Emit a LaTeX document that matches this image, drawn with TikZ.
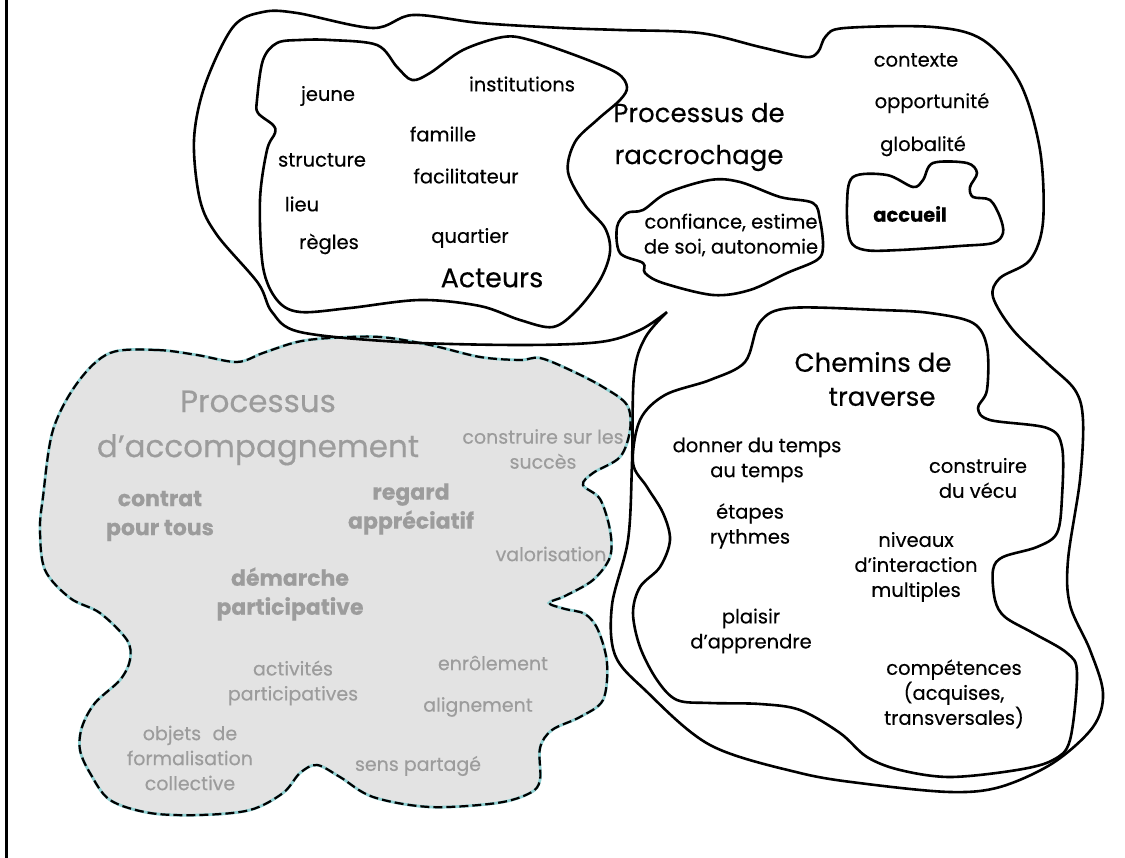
\documentclass[tikz,border=0pt]{standalone}
\usepackage{fontspec}
\setmainfont{Poppins}[FakeBold=0.3]
\begin{document}
\begin{tikzpicture}[x=1pt,y=-1pt,
  contour/.style={draw=black,line width=2.6pt,line join=round},
  lbl/.style={font=\fontsize{19.5}{25}\selectfont,text=black,align=center,inner sep=0pt},
  bigl/.style={font=\fontsize{26}{42}\selectfont,text=black,align=center,inner sep=0pt},
  glbl/.style={font=\fontsize{19}{25}\selectfont,text=graytxt,align=center,inner sep=0pt},
  gmid/.style={font=\fontsize{22}{29}\selectfont\bfseries,text=graytxt,align=center,inner sep=0pt},
  gbig/.style={font=\fontsize{31}{45}\selectfont,text=graytxt,align=center,inner sep=0pt}]
\definecolor{graytxt}{HTML}{9C9C9C}
\definecolor{grayfill}{HTML}{E3E3E3}
\definecolor{cyanline}{HTML}{8FD0D2}
\useasboundingbox (0,0) rectangle (1125,858);
\fill[white] (0,0) rectangle (1125,858);
\draw[line width=3pt] (6,0) -- (6,858);

% gray blob
\path[fill=grayfill,draw=cyanline,line width=2.8pt]
  plot[smooth cycle,tension=0.55] coordinates {(110,353) (157,350) (197,355) (237,362) (263,353) (297,342) (330,338) (380,337) (430,345) (480,357) (520,360) (540,358) (570,370) (603,387) (627,405) (630,430) (620,457) (593,473) (583,485) (600,499) (610,530) (610,557) (593,580) (565,596) (549,603) (565,609) (585,614) (598,630) (607,663) (603,700) (580,717) (552,730) (540,748) (540,780) (530,793) (497,803) (430,807) (373,797) (340,777) (317,765) (300,773) (283,793) (250,810) (200,815) (150,813) (110,800) (90,773) (80,750) (82,727) (95,703) (120,680) (130,660) (127,640) (100,613) (70,598) (45,570) (40,530) (43,497) (53,430) (78,382)};
\draw[line width=2.2pt,dash pattern=on 9pt off 4pt]
  plot[smooth cycle,tension=0.55] coordinates {(110,353) (157,350) (197,355) (237,362) (263,353) (297,342) (330,338) (380,337) (430,345) (480,357) (520,360) (540,358) (570,370) (603,387) (627,405) (630,430) (620,457) (593,473) (583,485) (600,499) (610,530) (610,557) (593,580) (565,596) (549,603) (565,609) (585,614) (598,630) (607,663) (603,700) (580,717) (552,730) (540,748) (540,780) (530,793) (497,803) (430,807) (373,797) (340,777) (317,765) (300,773) (283,793) (250,810) (200,815) (150,813) (110,800) (90,773) (80,750) (82,727) (95,703) (120,680) (130,660) (127,640) (100,613) (70,598) (45,570) (40,530) (43,497) (53,430) (78,382)};

% big outer contour
\draw[contour] plot[smooth,tension=0.55] coordinates {(667,312) (645,338) (634,375) (632,463) (628,540) (612,605) (615,655) (645,690) (710,745) (800,773) (867,784) (950,792) (1000,787) (1053,763) (1093,727) (1103,693) (1090,650) (1070,605) (1068,560) (1080,480) (1083,420) (1075,390) (1047,363) (1013,330) (993,297) (1000,278) (1030,260) (1043,222) (1040,150) (1020,83) (983,40) (933,27) (845,28) (826,36) (818,52) (805,57) (760,47) (700,33) (620,30) (563,28) (480,23) (413,15) (373,28) (297,13) (263,12) (233,27) (205,85) (194,140) (200,200) (217,235) (258,283) (272,312) (300,332) (400,342) (520,345) (600,342) (640,330) (667,312)};

% Acteurs contour
\draw[contour] plot[smooth cycle,tension=0.55] coordinates {(300,40) (330,40) (377,45) (397,67) (412,80) (430,73) (463,50) (503,37) (530,40) (580,57) (617,73) (627,87) (620,100) (597,120) (575,142) (568,172) (585,205) (605,228) (610,252) (600,280) (577,310) (553,327) (520,320) (480,306) (420,300) (350,308) (300,312) (277,300) (263,267) (260,200) (267,150) (275,133) (273,125) (258,113) (257,100) (263,60) (277,43)};

% confiance contour
\draw[contour] plot[smooth cycle,tension=0.55] coordinates {(627,213) (643,210) (667,193) (710,180) (740,182) (780,197) (813,203) (820,220) (823,247) (817,260) (787,273) (750,290) (713,295) (663,283) (645,273) (643,263) (620,253) (617,227)};

% accueil contour
\draw[contour] plot[smooth cycle,tension=0.55] coordinates {(853,177) (887,175) (913,187) (923,180) (933,163) (967,163) (977,173) (970,187) (973,197) (990,200) (1000,217) (1003,233) (993,243) (960,246) (900,250) (865,250) (850,240) (847,205)};

% Chemins contour
\draw[contour] plot[smooth cycle,tension=0.55] coordinates {(790,308) (880,310) (930,313) (973,323) (987,347) (987,390) (978,408) (990,420) (1047,428) (1062,447) (1062,497) (1057,533) (1037,547) (1003,557) (993,570) (995,600) (1005,617) (1033,633) (1067,653) (1077,673) (1070,740) (1053,760) (1017,770) (950,777) (900,770) (867,757) (840,733) (800,710) (760,704) (710,703) (677,700) (657,680) (640,647) (633,613) (640,587) (660,567) (670,540) (663,513) (647,487) (633,463) (640,420) (665,395) (710,380) (745,362) (760,322)};

% top cluster texts
\node[lbl] (jeune) at (328,96) {jeune};
\node[lbl] (institutions) at (522,84) {institutions};
\node[lbl] (famille) at (443,134) {famille};
\node[lbl] (structure) at (322,160) {structure};
\node[lbl] (facilitateur) at (466,176) {facilitateur};
\node[lbl] (lieu) at (302,204) {lieu};
\node[lbl] (regles) at (329,244) {règles};
\node[lbl] (quartier) at (470,238) {quartier};
\node[bigl,font=\fontsize{27}{32}\selectfont] (acteurs) at (492,278) {Acteurs};
\node[bigl] (raccrochage) at (699,137) {Processus de\\raccrochage};
\node[lbl] (contexte) at (916,60) {contexte};
\node[lbl] (opportunite) at (932,103) {opportunité};
\node[lbl] (globalite) at (923,146) {globalité};
\node[lbl,font=\fontsize{19.5}{23}\selectfont\bfseries] (accueil) at (910,214) {accueil};
\node[lbl] (confiance) at (731,235) {confiance, estime\\de soi, autonomie};

% right cluster texts
\node[bigl] (chemins) at (873,362) {Chemins de};
\node[bigl] (traverse) at (882,397) {traverse};
\node[lbl] (donner) at (757,460) {donner du temps\\au temps};
\node[lbl] (vecu) at (978,478) {construire\\du vécu};
\node[lbl] (etapes) at (750,526) {étapes\\rythmes};
\node[lbl] (niveaux) at (916,567) {niveaux\\d'interaction\\multiples};
\node[lbl] (plaisir) at (751,631) {plaisir\\d'apprendre};
\node[lbl] (competences) at (954,694) {compétences\\(acquises,\\transversales)};

% gray cluster texts
\node[gbig] (accomp) at (258,428) {Processus\\d'accompagnement};
\node[glbl] (succes) at (543,449) {construire sur les\\succès};
\node[gmid] (contrat) at (160,516) {contrat\\pour tous};
\node[gmid] (regard) at (411,509) {regard\\appréciatif};
\node[glbl] (valorisation) at (551,554) {valorisation};
\node[gmid] (demarche) at (290,594) {démarche\\participative};
\node[glbl] (activites) at (293,683) {activités\\participatives};
\node[glbl] (enrolement) at (493,663) {enrôlement};
\node[glbl] (alignement) at (478,707) {alignement};
\node[glbl] (objets) at (190,758) {objets\hspace{0.6em}de\\formalisation\\collective};
\node[glbl] (sens) at (418,766) {sens partagé};
\end{tikzpicture}
\end{document}
